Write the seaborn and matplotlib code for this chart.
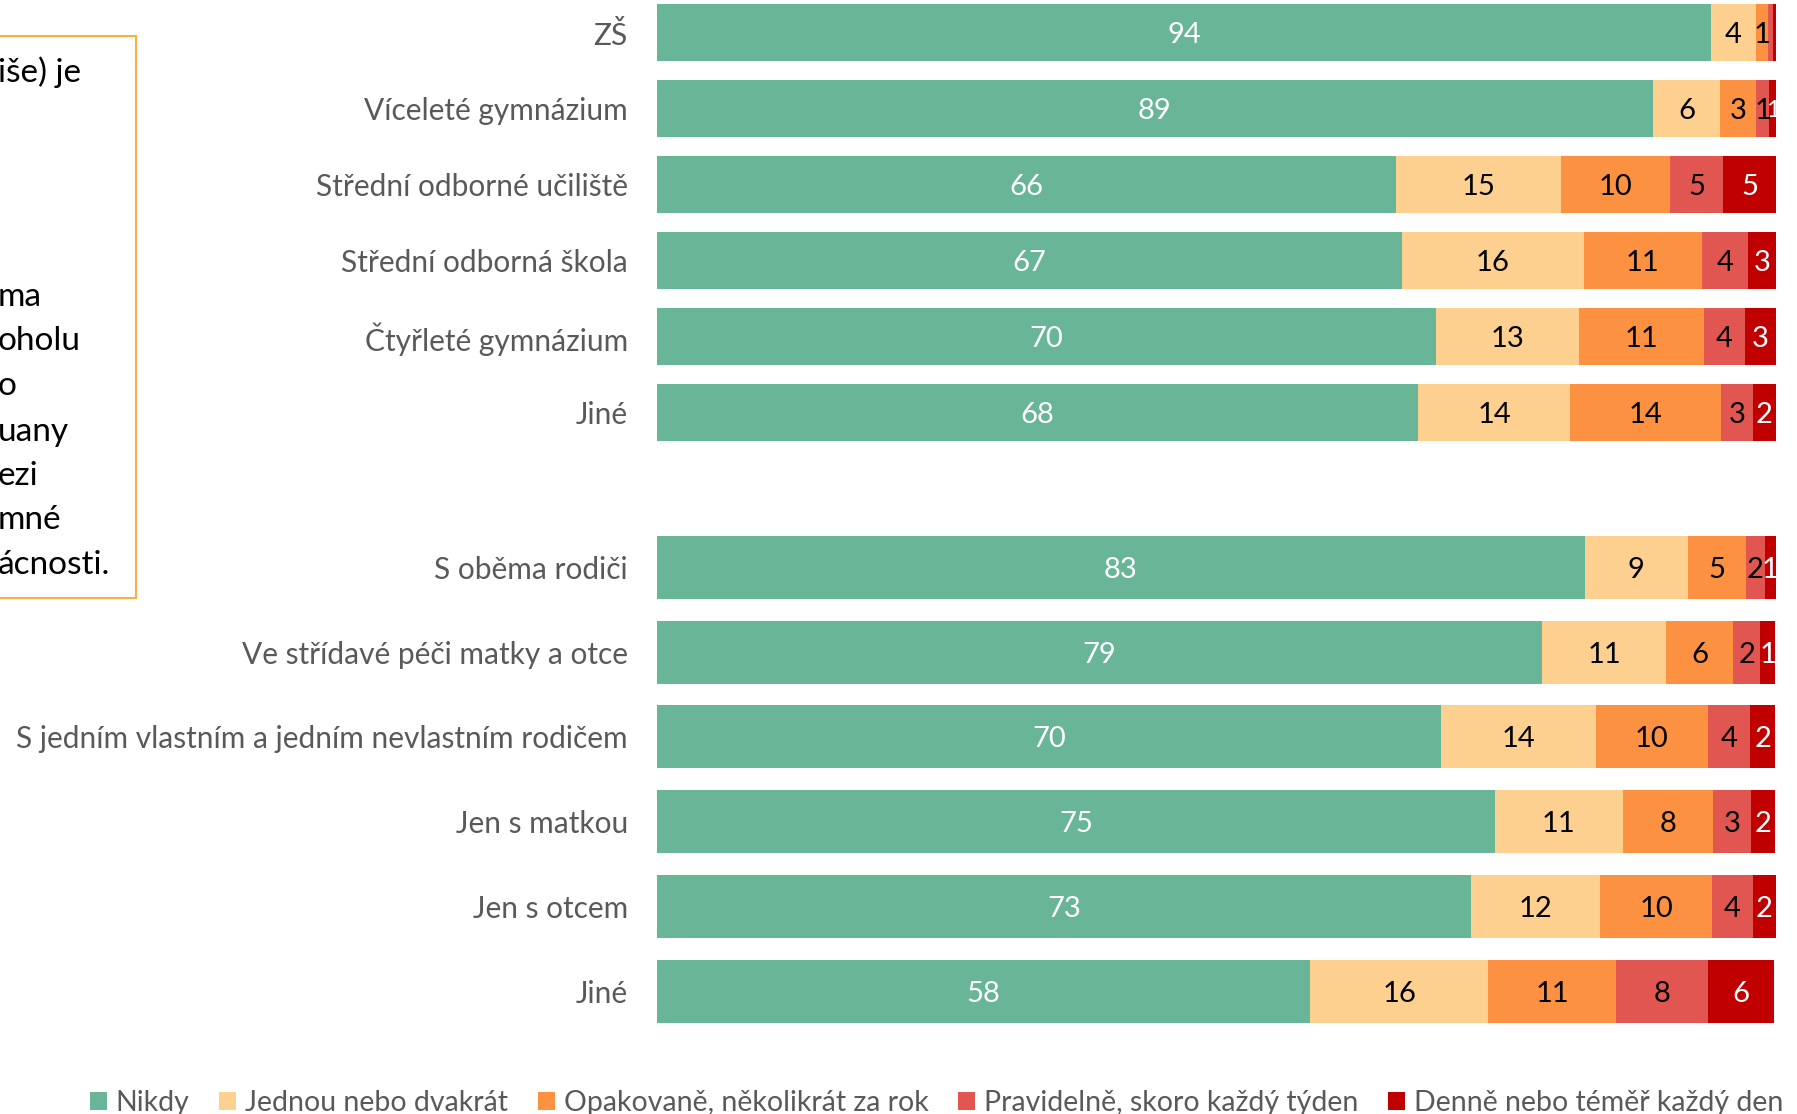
import numpy as np
import pandas as pd
import seaborn as sns
import matplotlib.pyplot as plt
from matplotlib.patches import Patch, Rectangle

# categories
answers = ['Nikdy', 'Jednou nebo dvakrát', 'Opakovaně, několikrát za rok',
           'Pravidelně, skoro každý týden', 'Denně nebo téměř každý den']
colors = ['#69B598', '#FDD08F', '#FC9141', '#E15650', '#C00000']
label_colors = ['white', 'black', 'black', 'black', 'white']

schools = ['ZŠ', 'Víceleté gymnázium', 'Střední odborné učiliště',
           'Střední odborná škola', 'Čtyřleté gymnázium', 'Jiné']
families = ['S oběma rodiči', 'Ve střídavé péči matky a otce',
            'S jedním vlastním a jedním nevlastním rodičem', 'Jen s matkou',
            'Jen s otcem', 'Jiné']

# shares in % (one list per answer)
school_nikdy = [94.2, 89.0, 66.0, 66.6, 69.6, 68.0]
school_jednou = [4.0, 6.0, 14.8, 16.2, 12.8, 13.6]
school_opak = [1.1, 3.2, 9.7, 10.6, 11.2, 13.5]
school_prav = [0.4, 1.2, 4.8, 4.1, 3.6, 2.8]
school_denne = [0.3, 0.6, 4.7, 2.5, 2.8, 2.1]

family_nikdy = [82.9, 79.1, 70.1, 74.9, 72.7, 58.4]
family_jednou = [9.2, 11.1, 13.8, 11.4, 11.6, 15.9]
family_opak = [5.2, 6.0, 10.0, 8.1, 10.0, 11.4]
family_prav = [1.7, 2.4, 3.8, 3.4, 3.6, 8.2]
family_denne = [1.0, 1.3, 2.2, 2.1, 2.1, 5.9]

df_school = pd.DataFrame(
    np.column_stack([school_nikdy, school_jednou, school_opak, school_prav, school_denne]),
    index=schools, columns=answers)
df_family = pd.DataFrame(
    np.column_stack([family_nikdy, family_jednou, family_opak, family_prav, family_denne]),
    index=families, columns=answers)

sns.set_theme(style='white')
plt.rcParams['font.family'] = ['Lato', 'DejaVu Sans']

W, H = 1797, 1114
fig = plt.figure(figsize=(W / 100, H / 100), dpi=100)

x0 = 657 / W
xw = 1119 / W


def draw_group(ax, df):
    cum = df.cumsum(axis=1)
    # draw cumulative totals from the last answer backwards so they overlay
    for i in range(len(answers) - 1, -1, -1):
        d = pd.DataFrame({'cat': df.index, 'val': cum.iloc[:, i].values})
        sns.barplot(data=d, y='cat', x='val', order=list(df.index), color=colors[i],
                    width=0.745, saturation=1, ax=ax, orient='h', linewidth=0)
    for r, cat in enumerate(df.index):
        for i in range(len(answers)):
            v = df.loc[cat, answers[i]]
            lab = int(v + 0.5)
            if lab < 1:
                continue
            # very thin segments get a slightly smaller number
            fs = 21 if v >= 1.0 else 17
            ax.text(cum.loc[cat, answers[i]] - v / 2, r + 0.03, str(lab), ha='center',
                    va='center', fontsize=fs, color=label_colors[i])
    ax.set_xlim(0, 100)
    ax.set_xlabel('')
    ax.set_ylabel('')
    ax.set_xticks([])
    ax.tick_params(axis='y', length=0, pad=21, labelsize=21.5, labelcolor='#595959')
    sns.despine(ax=ax, left=True, bottom=True)


# upper panel: type of school
step1 = 76.0
c1 = 32.7
ax1 = fig.add_axes([x0, 1 - (c1 + 5.5 * step1) / H, xw, (c1 + 5.5 * step1) / H])
draw_group(ax1, df_school)
ax1.set_ylim(5.5, -c1 / step1)

# lower panel: family
step2 = 84.8
c2 = 567.3
ax2 = fig.add_axes([x0, 1 - (c2 + 5.5 * step2) / H, xw, 6 * step2 / H])
draw_group(ax2, df_family)
ax2.set_ylim(5.5, -0.5)

# legend
handles = [Patch(facecolor=c, edgecolor='none') for c in colors]
fig.legend(handles, answers, loc='center left', bbox_to_anchor=(90 / W, 1 - 1103 / H),
           ncol=5, frameon=False, fontsize=20.5, handlelength=0.6, handleheight=0.6,
           handletextpad=0.3, columnspacing=1.05, borderpad=0, borderaxespad=0,
           labelcolor='#595959')

# cut-off text box on the left
fig.patches.append(Rectangle((-0.01, 1 - 598 / H), 136 / W + 0.01, (598 - 35.5) / H,
                             transform=fig.transFigure, facecolor='none',
                             edgecolor='#FBB040', linewidth=1.5))
box_lines = [(72, 'iše) je'), (297, 'ma'), (341, 'oholu'), (386, 'o'), (432, 'uany'),
             (476, 'ezi'), (520, 'mné'), (565, 'ácnosti.')]
for yy, t in box_lines:
    fig.text(-2 / W, 1 - yy / H, t, ha='left', va='center', fontsize=24, color='black')

plt.savefig('out.png', dpi=100)
